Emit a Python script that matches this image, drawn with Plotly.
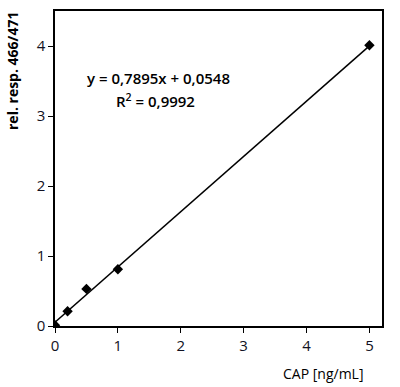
import plotly.graph_objects as go

conc = [0, 0.2, 0.5, 1, 5]
resp = [0.01, 0.21, 0.53, 0.81, 4.01]
slope = 0.7895
intercept = 0.0548
fit_x = [0, 5]
fit_y = [slope * x + intercept for x in fit_x]

FONT = "Open Sans"

fig = go.Figure()
fig.add_trace(go.Scatter(x=fit_x, y=fit_y, mode="lines",
                         line=dict(color="black", width=1.5), showlegend=False))
fig.add_trace(go.Scatter(x=conc, y=resp, mode="markers",
                         marker=dict(symbol="diamond", size=8, color="black"),
                         showlegend=False))

fig.update_layout(
    width=400, height=387,
    margin=dict(l=55, r=18, t=11, b=61, autoexpand=False),
    plot_bgcolor="white", paper_bgcolor="white",
    font=dict(family=FONT, size=14, color="#111122"),
    xaxis=dict(range=[0, 5.2], tickvals=[0, 1, 2, 3, 4, 5], ticks="outside",
               ticklen=5, tickcolor="black", showline=True, linecolor="black",
               linewidth=1.5, mirror=True, showgrid=False, zeroline=False,
               tickfont=dict(size=15)),
    yaxis=dict(range=[0, 4.5], tickvals=[0, 1, 2, 3, 4], ticks="outside",
               ticklen=5, tickcolor="black", showline=True, linecolor="black",
               linewidth=1.5, mirror=True, showgrid=False, zeroline=False,
               tickfont=dict(size=15)),
    annotations=[
        dict(text="CAP [ng/mL]", xref="paper", yref="paper", x=1.0, y=0,
             yshift=-36, xanchor="right", yanchor="top", showarrow=False,
             font=dict(family=FONT, size=14, color="black", weight=500), xshift=-17),
        dict(text="rel. resp. 466/471", xref="paper", yref="paper",
             x=0, y=1, xshift=-43, yshift=1, xanchor="center", yanchor="top",
             textangle=-90, showarrow=False,
             font=dict(family=FONT, size=14, color="black", weight=700)),
        dict(text="y = 0,7895x + 0,0548", xref="x", yref="y", x=1.64, y=3.54,
             showarrow=False, font=dict(family=FONT, size=15, color="black", weight=600)),
        dict(text="R<sup>2</sup> = 0,9992", xref="x", yref="y", x=1.6, y=3.22,
             showarrow=False, font=dict(family=FONT, size=15, color="black", weight=600)),
    ],
)

fig.write_html("out.html", post_script="document.body.style.margin='0';",
               config={"displayModeBar": False})
